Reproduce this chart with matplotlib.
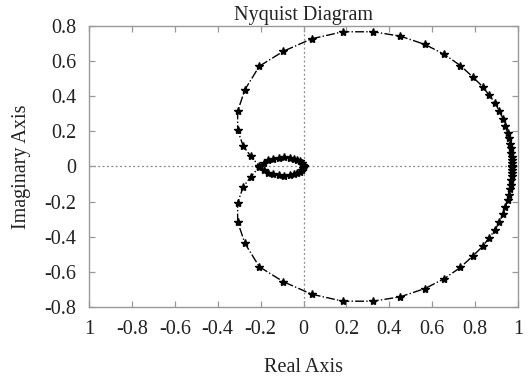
import matplotlib
matplotlib.use("Agg")
import matplotlib.pyplot as plt

# Nyquist locus, positive-frequency branch (starts at the DC gain on the real axis)
re_pos = [0.973, 0.973, 0.972, 0.971, 0.969, 0.966, 0.962, 0.957, 0.952, 0.941,
          0.932, 0.913, 0.894, 0.866, 0.835, 0.789, 0.731, 0.657, 0.566, 0.451,
          0.325, 0.183, 0.038, -0.094, -0.206, -0.273, -0.307, -0.307, -0.281,
          -0.246, -0.206, -0.185, -0.165, -0.14, -0.115, -0.09, -0.065, -0.045,
          -0.028, -0.015, -0.006, -0.001, 0.0]
im_pos = [0.005, 0.018, 0.035, 0.055, 0.078, 0.105, 0.13, 0.16, 0.19, 0.23,
          0.268, 0.315, 0.36, 0.405, 0.455, 0.51, 0.575, 0.638, 0.695, 0.742,
          0.767, 0.767, 0.727, 0.656, 0.571, 0.438, 0.315, 0.207, 0.116,
          0.059, 0.002, -0.02, -0.035, -0.045, -0.05, -0.052, -0.05, -0.045,
          -0.038, -0.03, -0.02, -0.01, -0.003]
# negative frequencies: complex conjugate of the branch above
im_neg = [-v for v in im_pos]

xticks = [-1, -0.8, -0.6, -0.4, -0.2, 0, 0.2, 0.4, 0.6, 0.8, 1]
xtick_labels = ["1", "-0.8", "-0.6", "-0.4", "-0.2", "0", "0.2", "0.4", "0.6", "0.8", "1"]
yticks = [-0.8, -0.6, -0.4, -0.2, 0, 0.2, 0.4, 0.6, 0.8]
ytick_labels = ["-0.8", "-0.6", "-0.4", "-0.2", "0", "0.2", "0.4", "0.6", "0.8"]

plt.rcParams["font.family"] = ["Liberation Serif", "DejaVu Serif"]
plt.rcParams["axes.unicode_minus"] = False

fig = plt.figure(figsize=(5.32, 3.76), dpi=100)
ax = fig.add_axes([0.1673, 0.1835, 0.8064, 0.7474])

# axis cross-hairs
ax.axhline(0, color="#888888", lw=0.9, ls=(0, (1.5, 2)), zorder=1)
ax.axvline(0, color="#888888", lw=0.9, ls=(0, (1.5, 2)), zorder=1)

for im in (im_pos, im_neg):
    ax.plot(re_pos, im, color="black", lw=1.0, ls="-.", marker="*",
            ms=6, mec="black", mfc="black", zorder=3)

ax.set_xlim(-1, 1)
ax.set_ylim(-0.8, 0.8)
ax.set_xticks(xticks)
ax.set_xticklabels(xtick_labels)
ax.set_yticks(yticks)
ax.set_yticklabels(ytick_labels)

for s in ax.spines.values():
    s.set_color("#999999")
    s.set_linewidth(1.0)
ax.tick_params(direction="in", length=4, width=0.9, color="#999999",
               top=True, right=True, labelsize=14.5, pad=9, labelcolor="#222222")

ax.set_title("Nyquist Diagram", fontsize=14.5, pad=4, color="#222222")
ax.set_xlabel("Real Axis", fontsize=14.5, labelpad=14, color="#222222")
ax.set_ylabel("Imaginary Axis", fontsize=14.5, labelpad=10, color="#222222")

fig.savefig("out.png", dpi=100)
